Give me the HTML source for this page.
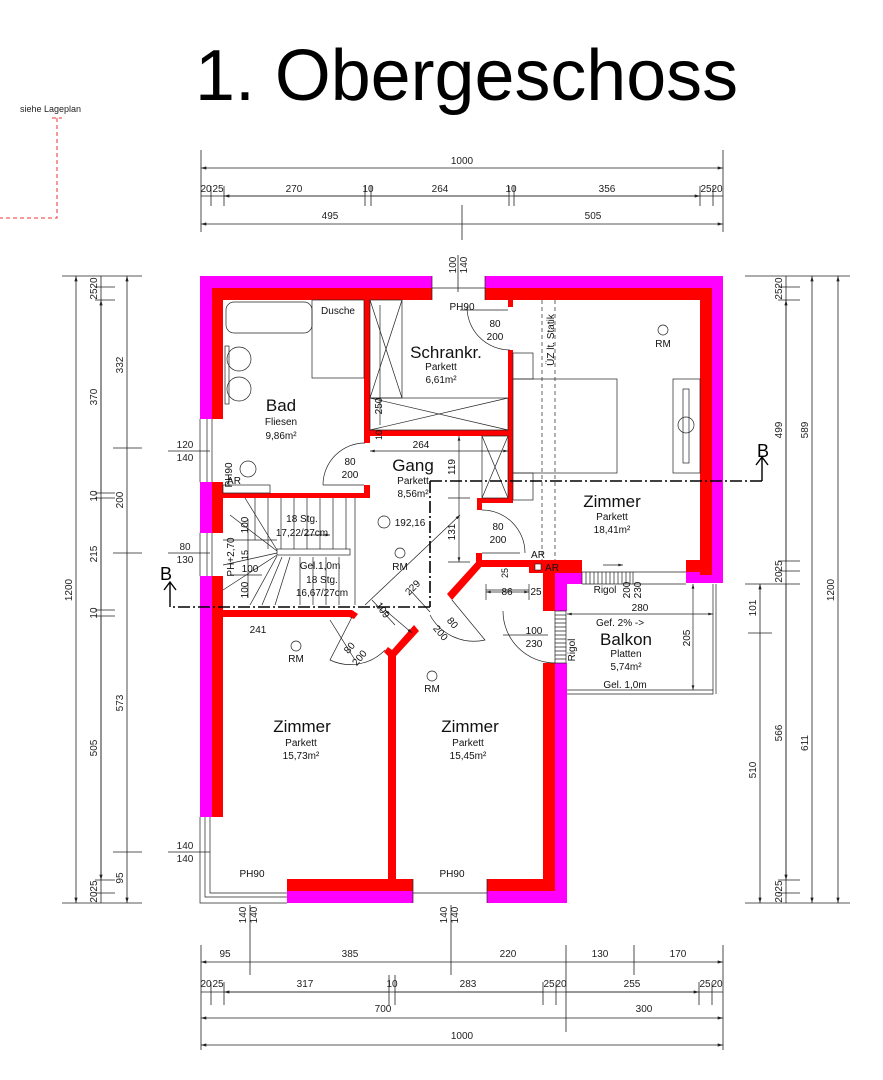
<!DOCTYPE html>
<html><head><meta charset="utf-8"><style>
html,body{margin:0;padding:0;background:#fff;}
svg{display:block;font-family:"Liberation Sans",sans-serif;}
</style></head><body>
<svg width="883" height="1080" viewBox="0 0 883 1080" xmlns="http://www.w3.org/2000/svg">
<defs>
<marker id="a" viewBox="0 0 10 6" refX="10" refY="3" markerWidth="7" markerHeight="4" orient="auto-start-reverse"><path d="M0,0 L10,3 L0,6z" fill="#222"/></marker>
</defs>
<rect width="883" height="1080" fill="#fff"/>
<text x="195" y="100" font-size="72" fill="#000" textLength="543" lengthAdjust="spacingAndGlyphs">1. Obergeschoss</text>
<text x="20" y="112" font-size="9" fill="#222">siehe Lageplan</text>
<path d="M52,118 H62 M57,118 V218 H0" stroke="#e33" stroke-width="1" fill="none" stroke-dasharray="4,3"/>

<g stroke="#222" stroke-width="0.8" fill="none">
<path d="M201,150V232 M723,150V232 M462,205V240"/>
<path d="M201,168H723" marker-start="url(#a)" marker-end="url(#a)"/>
<path d="M201,196H723"/>
<path d="M224,196H365 M371,196H509 M514,196H700" marker-start="url(#a)" marker-end="url(#a)"/>
<path d="M211,186V206 M224,186V206 M365,186V206 M371,186V206 M509,186V206 M514,186V206 M700,186V206 M713,186V206"/>
<path d="M201,224H462 M462,224H723" marker-start="url(#a)" marker-end="url(#a)"/>
<path d="M458,255V292"/>
<path d="M201,945V1050 M723,945V1050 M566,945V1032 M250,905V975 M451,905V975 M634,945V975"/>
<path d="M201,962H250 M250,962H451 M451,962H566 M566,962H634 M634,962H723" marker-start="url(#a)" marker-end="url(#a)"/>
<path d="M201,992H723"/>
<path d="M224,992H389 M395,992H543 M566,992H699" marker-start="url(#a)" marker-end="url(#a)"/>
<path d="M211,982V1005 M224,982V1005 M389,975V1005 M395,975V1005 M543,982V1005 M556,982V1005 M699,982V1005 M712,982V1005"/>
<path d="M201,1018H566 M566,1018H723" marker-start="url(#a)" marker-end="url(#a)"/>
<path d="M201,1045H723" marker-start="url(#a)" marker-end="url(#a)"/>
<path d="M62,276H142 M62,903H142"/>
<path d="M76,276V903" marker-start="url(#a)" marker-end="url(#a)"/>
<path d="M101,276V903"/>
<path d="M101,300V493 M101,498V610 M101,616V880" marker-start="url(#a)" marker-end="url(#a)"/>
<path d="M95,287H115 M95,300H115 M95,493H115 M95,498H115 M95,610H115 M95,616H115 M95,880H115 M95,893H115"/>
<path d="M127,276V448 M127,448V553 M127,553V852 M127,852V903" marker-start="url(#a)" marker-end="url(#a)"/>
<path d="M113,448H142 M113,553H142 M113,852H142"/>
<path d="M168,451H210 M168,553H210 M168,852H210"/>
<path d="M745,276H850 M745,903H850 M745,584H800"/>
<path d="M838,276V903" marker-start="url(#a)" marker-end="url(#a)"/>
<path d="M812,276V584 M812,584V903" marker-start="url(#a)" marker-end="url(#a)"/>
<path d="M786,276V903"/>
<path d="M786,300V561 M786,584V880" marker-start="url(#a)" marker-end="url(#a)"/>
<path d="M778,287H800 M778,300H800 M778,561H800 M778,571H800 M778,880H800 M778,893H800"/>
<path d="M760,584V633 M760,633V903" marker-start="url(#a)" marker-end="url(#a)"/>
<path d="M748,633H772"/>
</g>
<g font-size="10" fill="#222" text-anchor="middle">
<text x="462" y="164">1000</text>
<text x="206" y="192">20</text><text x="218" y="192">25</text><text x="294" y="192">270</text><text x="368" y="192">10</text><text x="440" y="192">264</text><text x="511" y="192">10</text><text x="607" y="192">356</text><text x="706" y="192">25</text><text x="717" y="192">20</text>
<text x="330" y="219">495</text><text x="593" y="219">505</text>
<text transform="translate(456,265) rotate(-90)">100</text><text transform="translate(467,265) rotate(-90)">140</text>
<text x="225" y="957">95</text><text x="350" y="957">385</text><text x="508" y="957">220</text><text x="600" y="957">130</text><text x="678" y="957">170</text>
<text x="206" y="987">20</text><text x="218" y="987">25</text><text x="305" y="987">317</text><text x="392" y="987">10</text><text x="468" y="987">283</text><text x="549" y="987">25</text><text x="561" y="987">20</text><text x="632" y="987">255</text><text x="705" y="987">25</text><text x="717" y="987">20</text>
<text x="383" y="1012">700</text><text x="644" y="1012">300</text><text x="462" y="1039">1000</text>
<text transform="translate(246,915) rotate(-90)">140</text><text transform="translate(257,915) rotate(-90)">140</text>
<text transform="translate(447,915) rotate(-90)">140</text><text transform="translate(458,915) rotate(-90)">140</text>
<text transform="translate(72,590) rotate(-90)">1200</text>
<text transform="translate(97,283) rotate(-90)">20</text><text transform="translate(97,294) rotate(-90)">25</text>
<text transform="translate(97,397) rotate(-90)">370</text><text transform="translate(97,496) rotate(-90)">10</text><text transform="translate(97,554) rotate(-90)">215</text><text transform="translate(97,613) rotate(-90)">10</text><text transform="translate(97,748) rotate(-90)">505</text>
<text transform="translate(97,886) rotate(-90)">25</text><text transform="translate(97,897) rotate(-90)">20</text>
<text transform="translate(123,365) rotate(-90)">332</text><text transform="translate(123,500) rotate(-90)">200</text><text transform="translate(123,703) rotate(-90)">573</text><text transform="translate(123,878) rotate(-90)">95</text>
<text x="185" y="448">120</text><text x="185" y="461">140</text><text x="185" y="550">80</text><text x="185" y="563">130</text><text x="185" y="849">140</text><text x="185" y="862">140</text>
<text transform="translate(782,283) rotate(-90)">20</text><text transform="translate(782,294) rotate(-90)">25</text>
<text transform="translate(782,430) rotate(-90)">499</text><text transform="translate(782,566) rotate(-90)">25</text><text transform="translate(782,577) rotate(-90)">20</text>
<text transform="translate(782,733) rotate(-90)">566</text><text transform="translate(782,886) rotate(-90)">25</text><text transform="translate(782,897) rotate(-90)">20</text>
<text transform="translate(756,608) rotate(-90)">101</text><text transform="translate(756,770) rotate(-90)">510</text>
<text transform="translate(808,430) rotate(-90)">589</text><text transform="translate(808,743) rotate(-90)">611</text><text transform="translate(834,590) rotate(-90)">1200</text>
</g>

<g fill="#ff00ff">
<rect x="200" y="276" width="232" height="12"/>
<rect x="485" y="276" width="238" height="12"/>
<rect x="711" y="276" width="12" height="307"/>
<rect x="686" y="571" width="37" height="12"/>
<rect x="200" y="276" width="12" height="143"/>
<rect x="200" y="482" width="12" height="51"/>
<rect x="200" y="576" width="12" height="241"/>
<rect x="287" y="891" width="126" height="12"/>
<rect x="487" y="891" width="80" height="12"/>
<rect x="555" y="663" width="12" height="240"/>
<rect x="555" y="573" width="12" height="38"/>
<rect x="555" y="573" width="27" height="11"/>
</g>
<g fill="#ff0000">
<rect x="212" y="288" width="220" height="12"/>
<rect x="485" y="288" width="227" height="12"/>
<rect x="700" y="288" width="12" height="287"/>
<rect x="686" y="560" width="26" height="12"/>
<rect x="212" y="288" width="11" height="131"/>
<rect x="212" y="482" width="11" height="51"/>
<rect x="212" y="576" width="11" height="241"/>
<rect x="287" y="879" width="126" height="12"/>
<rect x="487" y="879" width="68" height="12"/>
<rect x="543" y="663" width="12" height="228"/>
<rect x="543" y="560" width="12" height="51"/>
<rect x="529" y="560" width="53" height="13"/>
<rect x="476" y="560" width="56" height="7"/>
<rect x="476" y="553" width="6" height="12"/>
<rect x="364" y="300" width="6" height="143"/>
<rect x="364" y="485" width="6" height="13"/>
<rect x="223" y="493" width="147" height="5"/>
<rect x="370" y="430" width="143" height="6"/>
<rect x="508" y="300" width="5" height="7"/>
<rect x="508" y="350" width="5" height="153"/>
<rect x="477" y="498" width="36" height="5"/>
<rect x="477" y="498" width="5" height="12"/>
<rect x="223" y="610" width="129" height="7"/>
<polygon points="352,610 358,614 354,619 349,617"/>
<polygon points="447,594 478,560 483,565 452,600"/>
<polygon points="414,625 419,631 396,656 396,880 388,880 388,656 384,652 388,647 392,650"/>
</g>
<rect x="535" y="564" width="6" height="6" fill="#fff" stroke="#222" stroke-width="0.6"/>

<g stroke="#222" stroke-width="0.7" fill="none">
<path d="M432,276V300 M485,276V300 M432,288H485"/>
<path d="M200,419V482 M207,419V482 M212,419V482"/>
<path d="M200,533V576 M207,533V576 M212,533V576"/>
<path d="M200,817V903H287 M205,817V897H287 M210,817V893H287"/>
<path d="M413,879V903 M487,879V903 M413,893H487"/>
<rect x="226" y="302" width="86" height="31" rx="8"/>
<rect x="312" y="300" width="52" height="78"/>
<circle cx="239" cy="359" r="12"/><circle cx="239" cy="389" r="12"/>
<rect x="225" y="346" width="4" height="58"/>
<rect x="223" y="485" width="47" height="8"/>
<circle cx="248" cy="469" r="8"/>
<path d="M323,485 A42,42 0 0 1 365,443 M323,485H364"/>
<rect x="370" y="300" width="32" height="98"/><path d="M370,300L402,398 M402,300L370,398"/>
<rect x="370" y="398" width="138" height="32"/><path d="M370,398L508,430 M508,398L370,430"/>
<path d="M380,305V425"/>
<path d="M467,307 A43,43 0 0 0 510,350 M460,310H508"/>
<rect x="513" y="379" width="104" height="94"/>
<rect x="513" y="353" width="20" height="26"/><rect x="513" y="473" width="20" height="27"/>
<rect x="673" y="379" width="27" height="94"/><rect x="683" y="389" width="6" height="74"/><circle cx="686" cy="425" r="8"/>
<circle cx="663" cy="330" r="5"/>
<path d="M542,300V560 M555,300V560" stroke-dasharray="4,3"/>
<rect x="482" y="436" width="26" height="62"/><path d="M482,436L508,498 M508,436L482,498"/>
<path d="M482,510 A43,43 0 0 1 525,553 M482,553H520"/>
<path d="M370,451H508" marker-start="url(#a)" marker-end="url(#a)"/>
<path d="M459,436V498 M459,498V562" marker-start="url(#a)" marker-end="url(#a)"/>
<path d="M448,498H470 M448,562H470"/>
<path d="M365,605L460,515" marker-end="url(#a)"/>
<circle cx="384" cy="522" r="6"/>
<circle cx="400" cy="553" r="5"/><circle cx="296" cy="646" r="5"/><circle cx="432" cy="676" r="5"/>
<path d="M355,498V605 M223,540H277"/>
<path d="M255,498V540 M268,498V549 M281,498V549 M294,498V549 M307,498V549 M320,498V549 M333,498V549 M346,498V549"/>
<path d="M300,557V605 M313,557V605 M326,557V605 M339,557V605 M290,557L275,605 M282,557L262,605 M277,556L250,605 M277,555L223,590 M277,553L223,565 M277,551L230,515 M277,550L245,498"/>
<rect x="277" y="549" width="73" height="6"/>
<path d="M248,519V598 M230,575H262"/>
<path d="M305,535H330" marker-end="url(#a)"/>
<path d="M352,617 L330,660 A48,48 0 0 0 385,650 M330,620L355,660"/>
<path d="M452,600 L485,640 A50,50 0 0 1 430,615"/>
<path d="M372,600L395,625 M410,590L430,612" />
<path d="M385,610L412,633" marker-start="url(#a)" marker-end="url(#a)"/>
<path d="M582,572H686 M582,584H686 M713,584V694H567 M716,584V694" />
<path d="M567,690H713"/>
<path d="M582,572V584 M586,572V584 M590,572V584 M594,572V584 M598,572V584 M602,572V584 M606,572V584 M610,572V584 M614,572V584 M618,572V584 M622,572V584 M626,572V584 M630,572V584 M633,572V584"/>
<rect x="555" y="611" width="11" height="52"/>
<path d="M555,615H566 M555,619H566 M555,623H566 M555,627H566 M555,631H566 M555,635H566 M555,639H566 M555,643H566 M555,647H566 M555,651H566 M555,655H566 M555,659H566"/>
<path d="M555,663 A52,52 0 0 1 503,611 M503,635H548"/>
<path d="M567,614H713" marker-start="url(#a)" marker-end="url(#a)"/>
<path d="M693,584V690" marker-start="url(#a)" marker-end="url(#a)"/>
<path d="M603,565H623" marker-end="url(#a)"/>
<path d="M486,584V600 M486,590H529 M529,584V600" />
<path d="M486,592H529" marker-start="url(#a)" marker-end="url(#a)"/>
</g>
<g stroke="#000" stroke-width="1.6" fill="none" stroke-dasharray="12,3,2,3">
<path d="M430,481H762 M430,481V607 M430,607H170"/>
</g>
<g stroke="#000" stroke-width="1.4" fill="none">
<path d="M762,481V458 M756,465L762,457L768,465"/>
<path d="M170,607V583 M164,590L170,582L176,590"/>
</g>
<text x="757" y="457" font-size="18" fill="#000">B</text>
<text x="160" y="580" font-size="18" fill="#000">B</text>

<g fill="#111" text-anchor="middle">
<text x="281" y="411" font-size="17">Bad</text><text x="281" y="425" font-size="10">Fliesen</text><text x="281" y="439" font-size="10">9,86m²</text>
<text x="446" y="358" font-size="17">Schrankr.</text><text x="441" y="370" font-size="10">Parkett</text><text x="441" y="383" font-size="10">6,61m²</text>
<text x="413" y="471" font-size="17">Gang</text><text x="413" y="484" font-size="10">Parkett</text><text x="413" y="497" font-size="10">8,56m²</text>
<text x="612" y="507" font-size="17">Zimmer</text><text x="612" y="520" font-size="10">Parkett</text><text x="612" y="533" font-size="10">18,41m²</text>
<text x="302" y="732" font-size="17">Zimmer</text><text x="301" y="746" font-size="10">Parkett</text><text x="301" y="759" font-size="10">15,73m²</text>
<text x="470" y="732" font-size="17">Zimmer</text><text x="468" y="746" font-size="10">Parkett</text><text x="468" y="759" font-size="10">15,45m²</text>
<text x="626" y="645" font-size="17">Balkon</text><text x="626" y="657" font-size="10">Platten</text><text x="626" y="670" font-size="10">5,74m²</text>
<text x="620" y="626" font-size="10">Gef. 2% -&gt;</text><text x="625" y="688" font-size="10">Gel. 1,0m</text>
<text x="605" y="593" font-size="10">Rigol</text>
<text transform="translate(575,650) rotate(-90)" font-size="10">Rigol</text>
<text x="338" y="314" font-size="10">Dusche</text>
<text x="663" y="347" font-size="10">RM</text><text x="400" y="570" font-size="10">RM</text><text x="296" y="662" font-size="10">RM</text><text x="432" y="692" font-size="10">RM</text>
<text transform="translate(554,340) rotate(-90)" font-size="10">ÜZ lt. Statik</text>
<text x="462" y="310" font-size="10">PH90</text>
<text x="495" y="327" font-size="10">80</text><text x="495" y="340" font-size="10">200</text>
<text x="350" y="465" font-size="10">80</text><text x="350" y="478" font-size="10">200</text>
<text x="498" y="530" font-size="10">80</text><text x="498" y="543" font-size="10">200</text>
<text x="534" y="634" font-size="10">100</text><text x="534" y="647" font-size="10">230</text>
<text x="421" y="448" font-size="10">264</text>
<text transform="translate(455,467) rotate(-90)" font-size="10">119</text>
<text transform="translate(455,532) rotate(-90)" font-size="10">131</text>
<text transform="translate(415,590) rotate(-45)" font-size="10">229</text>
<text x="410" y="526" font-size="10">192,16</text>
<text transform="translate(382,406) rotate(-90)" font-size="10">250</text>
<text transform="translate(382,435) rotate(-90)" font-size="9">10</text>
<text x="234" y="484" font-size="10">AR</text><text x="538" y="558" font-size="10">AR</text><text x="552" y="571" font-size="10">AR</text>
<text x="258" y="633" font-size="10">241</text>
<text x="507" y="595" font-size="10">86</text><text transform="translate(508,573) rotate(-90)" font-size="9">25</text><text x="536" y="595" font-size="10">25</text>
<text transform="translate(630,590) rotate(-90)" font-size="10">200</text><text transform="translate(641,590) rotate(-90)" font-size="10">230</text>
<text x="640" y="611" font-size="10">280</text>
<text transform="translate(690,638) rotate(-90)" font-size="10">205</text>
<text x="302" y="522" font-size="10">18 Stg.</text><text x="302" y="536" font-size="10">17,22/27cm</text>
<text x="320" y="569" font-size="10">Gel.1,0m</text><text x="322" y="583" font-size="10">18 Stg.</text><text x="322" y="596" font-size="10">16,67/27cm</text>
<text transform="translate(234,557) rotate(-90)" font-size="10">PH+2,70</text>
<text transform="translate(248,525) rotate(-90)" font-size="10">100</text>
<text transform="translate(248,555) rotate(-90)" font-size="9">15</text>
<text x="250" y="572" font-size="10">100</text>
<text transform="translate(248,590) rotate(-90)" font-size="10">100</text>
<text transform="translate(232,475) rotate(-90)" font-size="10">PH90</text>
<text transform="translate(352,650) rotate(-50)" font-size="10">80</text><text transform="translate(362,660) rotate(-50)" font-size="10">200</text>
<text transform="translate(380,612) rotate(55)" font-size="10">109</text>
<text transform="translate(450,625) rotate(50)" font-size="10">80</text><text transform="translate(438,635) rotate(50)" font-size="10">200</text>
<text x="252" y="877" font-size="10">PH90</text><text x="452" y="877" font-size="10">PH90</text>
</g>
</svg>
</body></html>
